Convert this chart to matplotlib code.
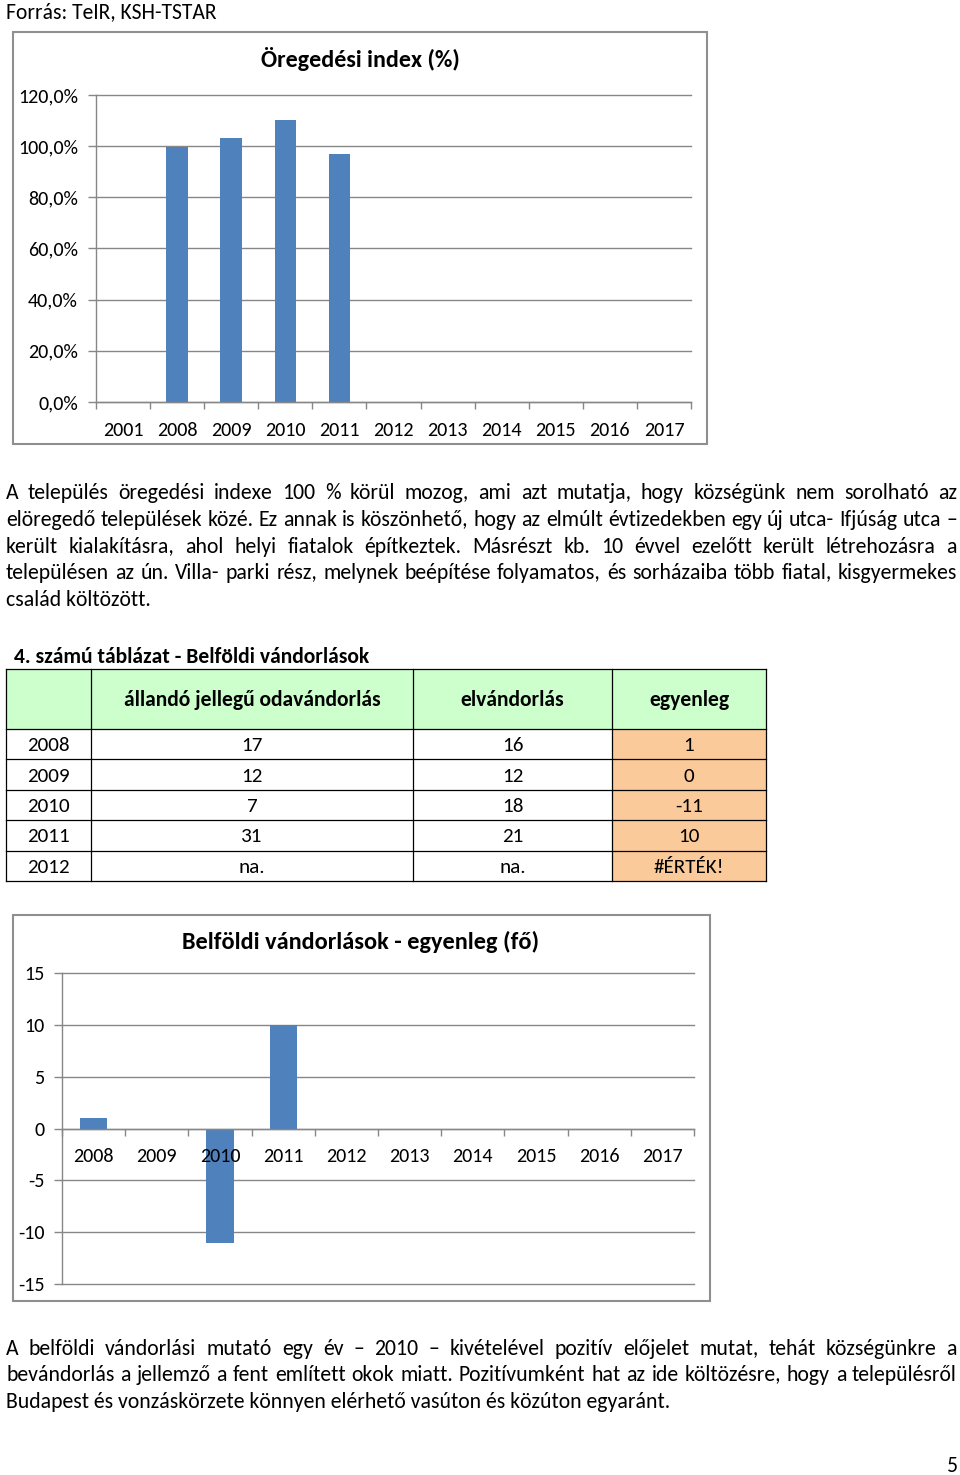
import math
import numpy as np
import matplotlib
matplotlib.use("Agg")
import matplotlib.pyplot as plt
from matplotlib import font_manager
from matplotlib.font_manager import FontProperties
from matplotlib.patches import Rectangle
from matplotlib.lines import Line2D
from matplotlib.ticker import FuncFormatter

W, H = 960, 1475

# ---------------- data ----------------
source_text = "Forrás: TeIR, KSH-TSTAR"

aging_title = "Öregedési index (%)"
aging_years = ["2001", "2008", "2009", "2010", "2011", "2012", "2013",
               "2014", "2015", "2016", "2017"]
aging_index = [np.nan, 99.6, 103.2, 110.1, 96.8, np.nan, np.nan,
               np.nan, np.nan, np.nan, np.nan]
aging_ticks = [0, 20, 40, 60, 80, 100, 120]

para1_lines = [
    "A település öregedési indexe 100 % körül mozog, ami azt mutatja, hogy községünk nem sorolható az",
    "elöregedő települések közé. Ez annak is köszönhető, hogy az elmúlt évtizedekben egy új utca- Ifjúság utca –",
    "került kialakításra, ahol helyi fiatalok építkeztek. Másrészt kb. 10 évvel ezelőtt került létrehozásra a",
    "településen az ún. Villa- parki rész, melynek beépítése folyamatos, és sorházaiba több fiatal, kisgyermekes",
    "család költözött.",
]

table_title = "4. számú táblázat - Belföldi vándorlások"
table_columns = ["", "állandó jellegű odavándorlás", "elvándorlás", "egyenleg"]
table_years = ["2008", "2009", "2010", "2011", "2012"]
table_inflow = ["17", "12", "7", "31", "na."]
table_outflow = ["16", "12", "18", "21", "na."]
table_balance = ["1", "0", "-11", "10", "#ÉRTÉK!"]

balance_title = "Belföldi vándorlások - egyenleg (fő)"
balance_years = ["2008", "2009", "2010", "2011", "2012", "2013", "2014",
                 "2015", "2016", "2017"]
balance_values = [1, 0, -11, 10, np.nan, np.nan, np.nan, np.nan, np.nan, np.nan]
balance_ticks = [-15, -10, -5, 0, 5, 10, 15]

para2_lines = [
    "A belföldi vándorlási mutató egy év – 2010 – kivételével pozitív előjelet mutat, tehát községünkre a",
    "bevándorlás a jellemző a fent említett okok miatt. Pozitívumként hat az ide költözésre, hogy a településről",
    "Budapest és vonzáskörzete könnyen elérhető vasúton és közúton egyaránt.",
]
page_number = "5"

# ---------------- style ----------------
names = {f.name for f in font_manager.fontManager.ttflist}
FONT = next((n for n in ("Carlito", "Lato", "Open Sans") if n in names), "DejaVu Sans")
FAMILY = [FONT, "DejaVu Sans"]
plt.rcParams["font.family"] = FAMILY
plt.rcParams["axes.unicode_minus"] = False

BAR = "#4F81BD"
GRID = "#878787"
FRAME = "#8f8f8f"

fig = plt.figure(figsize=(W / 100, H / 100), dpi=100)
bg = fig.add_axes([0, 0, 1, 1])
bg.set_xlim(0, W)
bg.set_ylim(H, 0)
bg.axis("off")
renderer = fig.canvas.get_renderer()


def tw(s, size, weight="normal"):
    t = bg.text(0, 0, s, fontsize=size, fontweight=weight)
    w = t.get_window_extent(renderer=renderer).width
    t.remove()
    return w


def fit(s, width, weight="normal"):
    return 20.0 * width / tw(s, 20.0, weight)


def baseline_fix(s, size):
    # compensate the 1px rounding of glyph bitmaps so that words share a baseline
    prop = FontProperties(family=FAMILY, size=size)
    _, h, d = renderer.get_text_width_height_descent(s, prop, ismath=False)
    return round(d) - math.floor(h + 1e-9) + math.floor(h - d + 1e-9)


def justify(line, y, x0, x1, size):
    words = line.split(" ")
    widths = [tw(w, size) for w in words]
    gap = (x1 - x0 - sum(widths)) / (len(words) - 1)
    x = x0
    for w, wd in zip(words, widths):
        bg.text(x, y - baseline_fix(w, size), w, fontsize=size, ha="left", va="baseline")
        x += wd + gap


def rect_axes(l, t, r, b):
    return fig.add_axes([l / W, 1 - b / H, (r - l) / W, (b - t) / H])


def style_category_axes(ax, labels, yticks, label_pad, ypad, fs):
    n = len(labels)
    ax.set_xlim(0, n)
    ax.set_yticks(yticks)
    ax.set_xticks(np.arange(n + 1))
    ax.set_xticklabels([])
    ax.set_xticks(np.arange(n) + 0.5, minor=True)
    ax.set_xticklabels(labels, minor=True)
    ax.tick_params(axis="x", which="major", length=5, width=1, color=GRID)
    ax.tick_params(axis="x", which="minor", length=0, pad=label_pad, labelsize=fs)
    ax.tick_params(axis="y", length=6, width=1, color=GRID, pad=ypad, labelsize=fs)
    ax.set_axisbelow(False)
    for v in yticks:
        ax.axhline(v, color=GRID, lw=1, zorder=0.8, clip_on=False)
    for s in ("top", "right"):
        ax.spines[s].set_visible(False)
    for s in ("left", "bottom"):
        ax.spines[s].set_color(GRID)
        ax.spines[s].set_linewidth(1)


fs_para = fit(para2_lines[-1], 663)
fs_tick = fit("2008", 41)

# source line
bg.text(6, 18, source_text, fontsize=fit(source_text, 212), va="baseline")

# ---------------- chart 1 ----------------
bg.add_patch(Rectangle((13, 32), 694, 412, fill=False, ec=FRAME, lw=1.5))
bg.text(360, 67, aging_title, ha="center", va="baseline", fontweight="bold",
        fontsize=fit(aging_title, 199, "bold"))

ax1 = rect_axes(96, 95, 691, 402)
x1 = np.arange(len(aging_years)) + 0.5
v1 = np.array(aging_index, dtype=float)
m1 = ~np.isnan(v1)
ax1.bar(x1[m1], v1[m1], width=0.4, color=BAR, zorder=2)
ax1.set_ylim(0, 120)
style_category_axes(ax1, aging_years, aging_ticks, 14.4, 7.0, fs_tick)
ax1.yaxis.set_major_formatter(FuncFormatter(lambda v, p: f"{v:.1f}%".replace(".", ",")))

# ---------------- paragraph 1 ----------------
p1_base = [499, 526, 553, 579, 606]
for i, line in enumerate(para1_lines):
    if i < len(para1_lines) - 1:
        justify(line, p1_base[i], 6, 957, fs_para)
    else:
        bg.text(6, p1_base[i], line, fontsize=fs_para, va="baseline")

# ---------------- table ----------------
fs_ttitle = fit(table_title, 357, "bold")
bg.text(14, 663, table_title, fontsize=fs_ttitle, fontweight="bold", va="baseline")

rows_y = [669, 729, 759, 790, 820, 851, 881]
cols_x = [6, 91, 413, 612, 766]
bg.add_patch(Rectangle((cols_x[0], rows_y[0]), cols_x[-1] - cols_x[0],
                       rows_y[1] - rows_y[0], fc="#CCFFCC", ec="none"))
bg.add_patch(Rectangle((cols_x[3], rows_y[1]), cols_x[4] - cols_x[3],
                       rows_y[-1] - rows_y[1], fc="#FBCA9A", ec="none"))
for y in rows_y:
    bg.add_line(Line2D([cols_x[0], cols_x[-1]], [y, y], color="black", lw=0.9))
for x in cols_x:
    bg.add_line(Line2D([x, x], [rows_y[0], rows_y[-1]], color="black", lw=0.9))

fs_head = fit(table_columns[1], 259, "bold")
fs_cell = fit("2008", 43)
for j in range(1, 4):
    cx = (cols_x[j] + cols_x[j + 1]) / 2
    bg.text(cx, 706, table_columns[j], ha="center", va="baseline",
            fontsize=fs_head, fontweight="bold")
for i in range(len(table_years)):
    yb = (rows_y[i + 1] + rows_y[i + 2]) / 2 + 7
    cells = [table_years[i], table_inflow[i], table_outflow[i], table_balance[i]]
    for j, c in enumerate(cells):
        cx = (cols_x[j] + cols_x[j + 1]) / 2
        bg.text(cx, yb, c, ha="center", va="baseline", fontsize=fs_cell)

# ---------------- chart 2 ----------------
bg.add_patch(Rectangle((13, 915), 697, 386, fill=False, ec=FRAME, lw=1.5))
bg.text(360.5, 949, balance_title, ha="center", va="baseline", fontweight="bold",
        fontsize=fit(balance_title, 357, "bold"))

ax2 = rect_axes(62, 973, 694, 1284)
x2 = np.arange(len(balance_years)) + 0.5
v2 = np.array(balance_values, dtype=float)
m2 = ~np.isnan(v2)
ax2.bar(x2[m2], v2[m2], width=0.43, color=BAR, zorder=2)
ax2.set_ylim(-15, 15)
style_category_axes(ax2, balance_years, balance_ticks, 13.7, 6.5, fs_tick)
ax2.spines["bottom"].set_position(("data", 0))

# ---------------- paragraph 2 ----------------
p2_base = [1355, 1381, 1408]
for i, line in enumerate(para2_lines):
    if i < len(para2_lines) - 1:
        justify(line, p2_base[i], 6, 957, fs_para)
    else:
        bg.text(6, p2_base[i], line, fontsize=fs_para, va="baseline")

bg.text(957, 1472, page_number, ha="right", va="baseline", fontsize=fs_para)

fig.savefig("out.png", dpi=100)
